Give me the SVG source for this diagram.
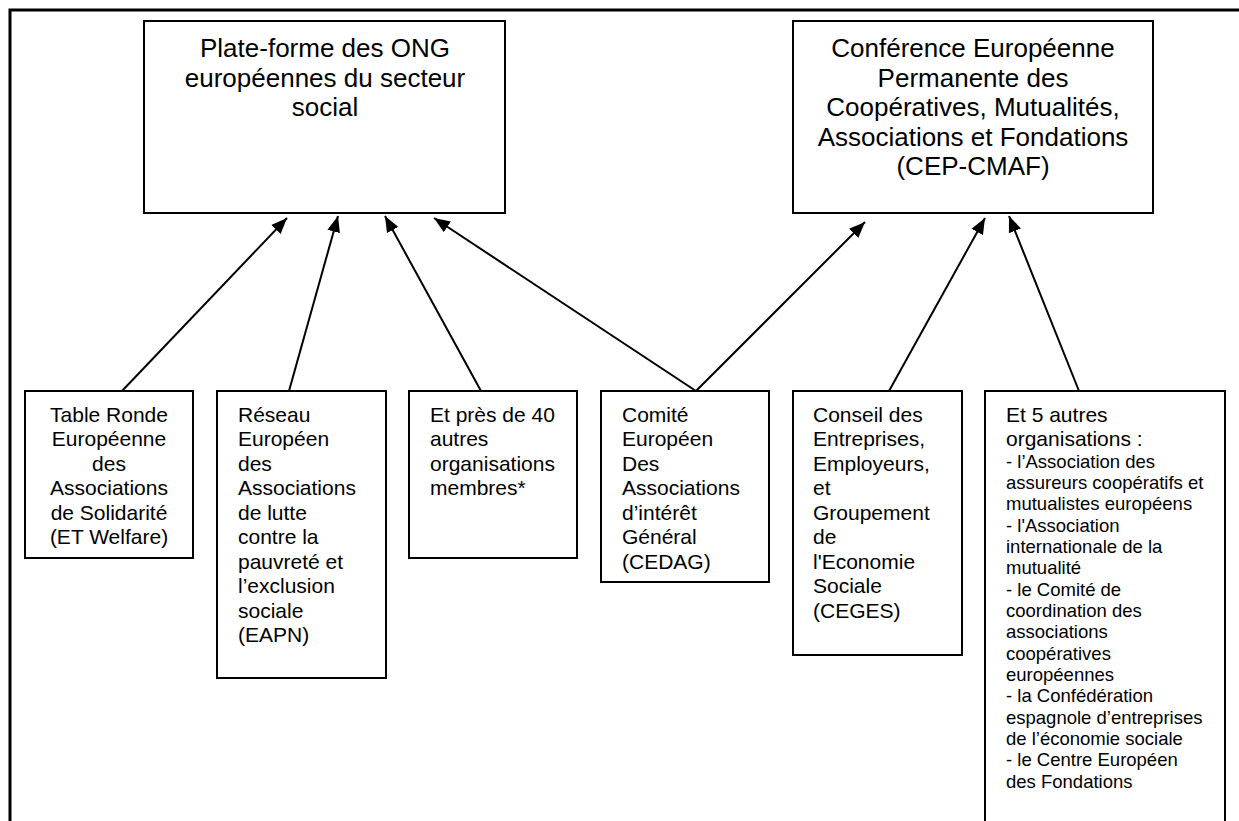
<svg xmlns="http://www.w3.org/2000/svg" width="1239" height="821" viewBox="0 0 1239 821">
<defs>
<style>
.box{fill:#fff;stroke:#000;stroke-width:2}
.frame{fill:none;stroke:#000;stroke-width:3}
.big{font-family:"Liberation Sans",Arial,sans-serif;font-size:26px;fill:#000;text-anchor:middle}
.mid{font-family:"Liberation Sans",Arial,sans-serif;font-size:21px;fill:#000}
.sm{font-family:"Liberation Sans",Arial,sans-serif;font-size:18.5px;fill:#000}
.edge{stroke:#000;stroke-width:2;fill:none;marker-end:url(#arr)}
</style>
<marker id="arr" markerUnits="userSpaceOnUse" markerWidth="17" markerHeight="14" refX="16" refY="7" orient="auto">
<path d="M0,0.5 L16,7 L0,13.5 z" fill="#000"/>
</marker>
</defs>
<rect width="1239" height="821" fill="#fff"/>
<path class="frame" d="M10,830 L10,10 L1245,10"/>

<g id="connectors">
<line class="edge" x1="122" y1="391" x2="287" y2="218"/>
<line class="edge" x1="289" y1="391" x2="338" y2="216"/>
<line class="edge" x1="481" y1="391" x2="385" y2="216"/>
<line class="edge" x1="696" y1="391" x2="434" y2="218"/>
<line class="edge" x1="696" y1="391" x2="865" y2="222"/>
<line class="edge" x1="889" y1="391" x2="985" y2="218"/>
<line class="edge" x1="1079" y1="391" x2="1009" y2="216"/>
</g>

<g id="plateforme">
<rect class="box" x="144" y="21" width="361" height="192"/>
<text class="big" x="325" y="57">Plate-forme des ONG</text>
<text class="big" x="325" y="86.5">européennes du secteur</text>
<text class="big" x="325" y="116">social</text>
</g>

<g id="cepcmaf">
<rect class="box" x="793" y="21" width="360" height="192"/>
<text class="big" x="973" y="57">Conférence Européenne</text>
<text class="big" x="973" y="86.5">Permanente des</text>
<text class="big" x="973" y="116">Coopératives, Mutualités,</text>
<text class="big" x="973" y="145.5">Associations et Fondations</text>
<text class="big" x="973" y="175">(CEP-CMAF)</text>
</g>

<g id="etwelfare">
<rect class="box" x="25" y="391" width="168" height="167"/>
<text class="mid" text-anchor="middle" x="109" y="421.5">Table Ronde</text>
<text class="mid" text-anchor="middle" x="109" y="446">Européenne</text>
<text class="mid" text-anchor="middle" x="109" y="470.5">des</text>
<text class="mid" text-anchor="middle" x="109" y="495">Associations</text>
<text class="mid" text-anchor="middle" x="109" y="519.5">de Solidarité</text>
<text class="mid" text-anchor="middle" x="109" y="544">(ET Welfare)</text>
</g>

<g id="eapn">
<rect class="box" x="217" y="391" width="169" height="287"/>
<text class="mid" x="238" y="421.5">Réseau</text>
<text class="mid" x="238" y="446">Européen</text>
<text class="mid" x="238" y="470.5">des</text>
<text class="mid" x="238" y="495">Associations</text>
<text class="mid" x="238" y="519.5">de lutte</text>
<text class="mid" x="238" y="544">contre la</text>
<text class="mid" x="238" y="568.5">pauvreté et</text>
<text class="mid" x="238" y="593">l’exclusion</text>
<text class="mid" x="238" y="617.5">sociale</text>
<text class="mid" x="238" y="642">(EAPN)</text>
</g>

<g id="autres40">
<rect class="box" x="409" y="391" width="168" height="167"/>
<text class="mid" x="430" y="421.5">Et près de 40</text>
<text class="mid" x="430" y="446">autres</text>
<text class="mid" x="430" y="470.5">organisations</text>
<text class="mid" x="430" y="495">membres*</text>
</g>

<g id="cedag">
<rect class="box" x="601" y="391" width="168" height="191"/>
<text class="mid" x="622" y="421.5">Comité</text>
<text class="mid" x="622" y="446">Européen</text>
<text class="mid" x="622" y="470.5">Des</text>
<text class="mid" x="622" y="495">Associations</text>
<text class="mid" x="622" y="519.5">d’intérêt</text>
<text class="mid" x="622" y="544">Général</text>
<text class="mid" x="622" y="568.5">(CEDAG)</text>
</g>

<g id="ceges">
<rect class="box" x="793" y="391" width="169" height="264"/>
<text class="mid" x="813" y="421.5">Conseil des</text>
<text class="mid" x="813" y="446">Entreprises,</text>
<text class="mid" x="813" y="470.5">Employeurs,</text>
<text class="mid" x="813" y="495">et</text>
<text class="mid" x="813" y="519.5">Groupement</text>
<text class="mid" x="813" y="544">de</text>
<text class="mid" x="813" y="568.5">l'Economie</text>
<text class="mid" x="813" y="593">Sociale</text>
<text class="mid" x="813" y="617.5">(CEGES)</text>
</g>

<g id="autres5">
<rect class="box" x="985" y="391" width="240" height="445"/>
<text class="mid" x="1006" y="421.5">Et 5 autres</text>
<text class="mid" x="1006" y="446">organisations :</text>
<text class="sm" x="1006" y="467.5">- l’Association des</text>
<text class="sm" x="1006" y="488.9">assureurs coopératifs et</text>
<text class="sm" x="1006" y="510.2">mutualistes européens</text>
<text class="sm" x="1006" y="531.6">- l'Association</text>
<text class="sm" x="1006" y="552.9">internationale de la</text>
<text class="sm" x="1006" y="574.3">mutualité</text>
<text class="sm" x="1006" y="595.6">- le Comité de</text>
<text class="sm" x="1006" y="617">coordination des</text>
<text class="sm" x="1006" y="638.3">associations</text>
<text class="sm" x="1006" y="659.7">coopératives</text>
<text class="sm" x="1006" y="681">européennes</text>
<text class="sm" x="1006" y="702.4">- la Confédération</text>
<text class="sm" x="1006" y="723.7">espagnole d’entreprises</text>
<text class="sm" x="1006" y="745.1">de l’économie sociale</text>
<text class="sm" x="1006" y="766.4">- le Centre Européen</text>
<text class="sm" x="1006" y="787.8">des Fondations</text>
</g>
</svg>
